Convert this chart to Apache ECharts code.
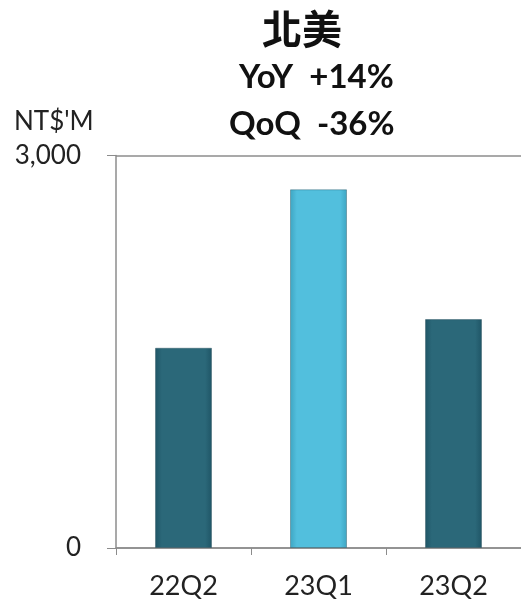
<!DOCTYPE html>
<html>
<head>
<meta charset="utf-8">
<script src="https://cdn.jsdelivr.net/npm/echarts@6/dist/echarts.min.js"></script>
<style>html,body{margin:0;padding:0;background:#fff}#c{width:521px;height:600px}</style>
</head>
<body>
<div id="c"></div>
<script>
const categories = ['22Q2', '23Q1', '23Q2'];
const values = [1531, 2742, 1750];
const yTicks = [0, 3000];
const titleText = '北美';
const yoyText = 'YoY  +14%';
const qoqText = 'QoQ  -36%';
const unitText = "NT$'M";

const darkGrad = new echarts.graphic.LinearGradient(0, 0, 1, 0, [
  {offset: 0, color: '#1f5566'}, {offset: 0.12, color: '#2b6879'},
  {offset: 0.88, color: '#2b6879'}, {offset: 1, color: '#1f5566'}]);
const lightGrad = new echarts.graphic.LinearGradient(0, 0, 1, 0, [
  {offset: 0, color: '#3ea5c2'}, {offset: 0.12, color: '#52bfdd'},
  {offset: 0.88, color: '#52bfdd'}, {offset: 1, color: '#3ea5c2'}]);
const colors = [darkGrad, lightGrad, darkGrad];

const chart = echarts.init(document.getElementById('c'));
chart.setOption({
  animation: false,
  grid: {left: 116, right: -6, top: 155.5, bottom: 52},
  graphic: [
    {type: 'text', left: 262, top: 9, style: {text: titleText, font: 'bold 40px "Noto Sans CJK TC"', fill: '#111'}},
    {type: 'text', left: 239, top: 61, style: {text: yoyText, font: 'bold 33px Lato', fill: '#111'}},
    {type: 'text', left: 229, top: 108, style: {text: qoqText, font: 'bold 33px Lato', fill: '#111'}},
    {type: 'text', left: 14, top: 109, style: {text: unitText, font: '26px Lato', fill: '#222'}}
  ],
  xAxis: {
    type: 'category', data: categories,
    axisLine: {lineStyle: {color: '#8c8c8c', width: 1.5}},
    axisTick: {show: true, length: 7, lineStyle: {color: '#8c8c8c'}},
    axisLabel: {fontSize: 27, fontFamily: 'Lato', color: '#222', margin: 25}
  },
  yAxis: {
    type: 'value', min: yTicks[0], max: yTicks[1], interval: 3000,
    axisLine: {show: true, lineStyle: {color: '#8c8c8c', width: 1.5}},
    axisTick: {show: true, length: 9, lineStyle: {color: '#8c8c8c'}},
    splitLine: {show: true, lineStyle: {color: '#8c8c8c', width: 1.5}},
    axisLabel: {fontSize: 26, fontFamily: 'Lato', color: '#222', margin: 35,
      formatter: v => v.toLocaleString('en-US')}
  },
  series: [{
    type: 'bar', barWidth: 57,
    data: values.map((v, i) => ({value: v, itemStyle: {color: colors[i]}})),
    itemStyle: {borderColor: 'rgba(20,60,75,0.35)', borderWidth: 1}
  }]
});
</script>
</body>
</html>
